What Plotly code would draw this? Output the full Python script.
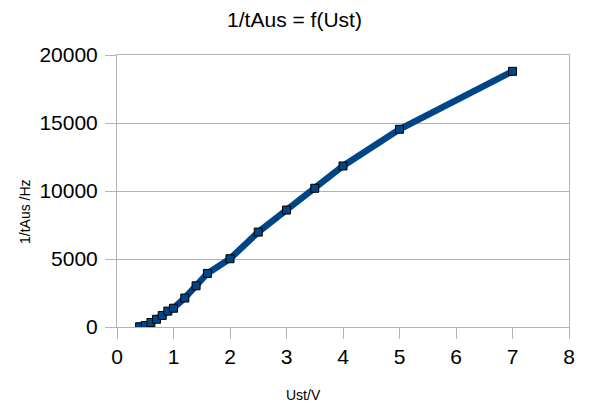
import plotly.graph_objects as go

# Data
u_st = [0.4, 0.5, 0.6, 0.7, 0.8, 0.9, 1.0, 1.2, 1.4, 1.6, 2.0, 2.5, 3.0, 3.5, 4.0, 5.0, 7.0]
inv_t_aus = [20, 110, 330, 570, 850, 1170, 1380, 2130, 3030, 3940, 5020, 6980, 8600, 10200, 11840, 14540, 18800]

x_ticks = [0, 1, 2, 3, 4, 5, 6, 7, 8]
y_ticks = [0, 5000, 10000, 15000, 20000]

title_text = "1/tAus = f(Ust)"
x_title = "Ust/V"
y_title = "1/tAus /Hz"

FONT = "Liberation Sans, Arial, sans-serif"
GRID = "#b3b3b3"
BLUE = "#004586"

fig = go.Figure()
fig.add_trace(go.Scatter(
    x=u_st, y=inv_t_aus, mode="lines+markers",
    line=dict(color=BLUE, width=6.5),
    marker=dict(symbol="square", size=8, color=BLUE, line=dict(color="#000000", width=1)),
    showlegend=False,
))

fig.update_layout(
    width=589, height=405,
    margin=dict(l=117, r=20, t=55, b=78),
    paper_bgcolor="white", plot_bgcolor="white",
    font=dict(family=FONT, color="#000000"),
    title=dict(text=title_text, x=0.5, xanchor="center", y=1 - 20 / 405, yanchor="middle",
               font=dict(size=21, family=FONT)),
    xaxis=dict(range=[0, 8], tickvals=x_ticks, ticktext=[str(v) for v in x_ticks],
               showgrid=False, zeroline=False, showline=True, linecolor=GRID, linewidth=1,
               mirror=True, ticks="outside", ticklen=11, tickcolor=GRID,
               tickfont=dict(size=21, family=FONT)),
    yaxis=dict(range=[0, 20000], tickvals=y_ticks, ticktext=[str(v) for v in y_ticks],
               showgrid=True, gridcolor=GRID, gridwidth=1, zeroline=False,
               showline=True, linecolor=GRID, linewidth=1, mirror=True,
               ticks="outside", ticklen=11, tickcolor=GRID, ticklabelstandoff=3,
               tickfont=dict(size=21, family=FONT)),
    annotations=[
        dict(text=x_title, xref="paper", yref="paper", x=(303 - 117) / 452, y=-(395 - 327) / 272,
             xanchor="center", yanchor="middle", showarrow=False, font=dict(size=14, family=FONT)),
        dict(text=y_title, xref="paper", yref="paper", x=-(117 - 25) / 452, y=(327 - 212) / 272,
             xanchor="center", yanchor="middle", textangle=-90, showarrow=False,
             font=dict(size=14, family=FONT)),
    ],
)

fig.write_html("out.html", config={"displayModeBar": False},
               post_script="document.body.style.margin='0';document.body.style.overflow='hidden';")
